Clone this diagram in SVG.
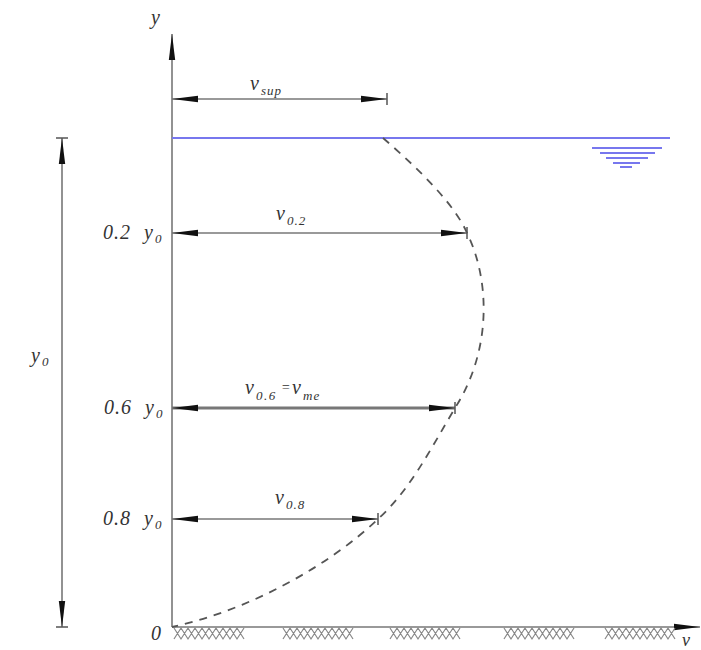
<svg xmlns="http://www.w3.org/2000/svg" width="701" height="650" viewBox="0 0 701 650">
<defs>
<marker id="ah" viewBox="0 0 26 8" refX="26" refY="4" markerWidth="26" markerHeight="8" markerUnits="userSpaceOnUse" orient="auto-start-reverse">
<path d="M0,0.8 L26,4 L0,7.2 Z" fill="#111"/>
</marker>
<style>
.ln{stroke:#777;stroke-width:1.6;fill:none}
.bold{stroke:#777;stroke-width:3;fill:none}
.blue{stroke:#7777ee;stroke-width:2;fill:none}
.t{font-family:"Liberation Serif",serif;font-style:italic;fill:#333}
.big{font-size:20px}
.sub{font-size:13px}
.hat{stroke:#888;stroke-width:1.2;fill:none}
.tick{stroke:#555;stroke-width:1.5}
</style>
</defs>
<rect width="701" height="650" fill="#fff"/>
<g id="axes">
<line class="ln" x1="172" y1="627" x2="172" y2="34" marker-end="url(#ah)"/>
<line class="ln" x1="172" y1="627" x2="700" y2="627" marker-end="url(#ah)"/>
<text class="t big" x="151" y="24">y</text>
<text class="t big" x="151" y="640">0</text>
<text class="t" x="682" y="646" font-size="18">v</text>
</g>
<g id="bed">
<path class="hat" d="M174,628 l7,11 l7,-11 l7,11 l7,-11 l7,11 l7,-11 l7,11 l7,-11 l7,11 l7,-11 M174,639 l7,-11 l7,11 l7,-11 l7,11 l7,-11 l7,11 l7,-11 l7,11 l7,-11 l7,11"/>
<path class="hat" d="M283,628 l7,11 l7,-11 l7,11 l7,-11 l7,11 l7,-11 l7,11 l7,-11 l7,11 l7,-11 M283,639 l7,-11 l7,11 l7,-11 l7,11 l7,-11 l7,11 l7,-11 l7,11 l7,-11 l7,11"/>
<path class="hat" d="M390,628 l7,11 l7,-11 l7,11 l7,-11 l7,11 l7,-11 l7,11 l7,-11 l7,11 l7,-11 M390,639 l7,-11 l7,11 l7,-11 l7,11 l7,-11 l7,11 l7,-11 l7,11 l7,-11 l7,11"/>
<path class="hat" d="M504,628 l7,11 l7,-11 l7,11 l7,-11 l7,11 l7,-11 l7,11 l7,-11 l7,11 l7,-11 M504,639 l7,-11 l7,11 l7,-11 l7,11 l7,-11 l7,11 l7,-11 l7,11 l7,-11 l7,11"/>
<path class="hat" d="M605,628 l7,11 l7,-11 l7,11 l7,-11 l7,11 l7,-11 l7,11 l7,-11 l7,11 l7,-11 M605,639 l7,-11 l7,11 l7,-11 l7,11 l7,-11 l7,11 l7,-11 l7,11 l7,-11 l7,11"/>
</g>
<g id="water">
<line class="blue" x1="172" y1="138" x2="670" y2="138"/>
<line class="blue" x1="592" y1="148" x2="662" y2="148" stroke-width="1.5"/>
<line class="blue" x1="600" y1="153" x2="655" y2="153" stroke-width="1.3"/>
<line class="blue" x1="606" y1="158" x2="648" y2="158" stroke-width="1.3"/>
<line class="blue" x1="613" y1="163" x2="640" y2="163" stroke-width="1.2"/>
<line class="blue" x1="620" y1="167" x2="632" y2="167" stroke-width="1"/>
</g>
<g id="profile">
<path d="M383,138 C420,170 455,205 467,233 C490,280 492,350 455,408 C430,450 410,490 378,519 C330,565 250,610 172,627" stroke="#555" stroke-width="1.8" fill="none" stroke-dasharray="8,7"/>
</g>
<g id="connectors">
<line class="ln" x1="172" y1="99" x2="387" y2="99" marker-start="url(#ah)" marker-end="url(#ah)"/>
<line class="tick" x1="387" y1="93" x2="387" y2="105"/>
<line class="ln" x1="172" y1="233" x2="467" y2="233" marker-start="url(#ah)" marker-end="url(#ah)"/>
<line class="tick" x1="467" y1="227" x2="467" y2="239"/>
<line class="bold" x1="172" y1="408" x2="455" y2="408" marker-start="url(#ah)" marker-end="url(#ah)"/>
<line class="tick" x1="455" y1="402" x2="455" y2="414"/>
<line class="ln" x1="172" y1="519" x2="378" y2="519" marker-start="url(#ah)" marker-end="url(#ah)"/>
<line class="tick" x1="378" y1="513" x2="378" y2="525"/>
<line class="ln" x1="62" y1="138" x2="62" y2="627" marker-start="url(#ah)" marker-end="url(#ah)"/>
<line class="tick" x1="56" y1="138" x2="68" y2="138"/>
<line class="tick" x1="56" y1="627" x2="68" y2="627"/>
</g>
<g id="labels">
<text class="t big" x="250" y="90">v<tspan class="sub" x="261" y="95" letter-spacing="1">sup</tspan></text>
<text class="t big" x="276" y="220">v<tspan class="sub" x="287" y="225" letter-spacing="1">0.2</tspan></text>
<text class="t big" x="245" y="394">v<tspan class="sub" x="256" y="400" letter-spacing="1.5">0.6</tspan><tspan x="281" y="392" font-size="14">=</tspan><tspan x="292" y="394">v</tspan><tspan class="sub" x="303" y="400" letter-spacing="1">me</tspan></text>
<text class="t big" x="275" y="504">v<tspan class="sub" x="286" y="509" letter-spacing="1">0.8</tspan></text>
<text class="t big" x="103" y="239" letter-spacing="1">0.2<tspan x="144">y</tspan><tspan class="sub" x="155" y="243">0</tspan></text>
<text class="t big" x="104" y="414" letter-spacing="1">0.6<tspan x="145">y</tspan><tspan class="sub" x="156" y="418">0</tspan></text>
<text class="t big" x="103" y="525" letter-spacing="1">0.8<tspan x="144">y</tspan><tspan class="sub" x="155" y="529">0</tspan></text>
<text class="t big" x="31" y="362">y<tspan class="sub" x="42" y="366">0</tspan></text>
</g>
</svg>
